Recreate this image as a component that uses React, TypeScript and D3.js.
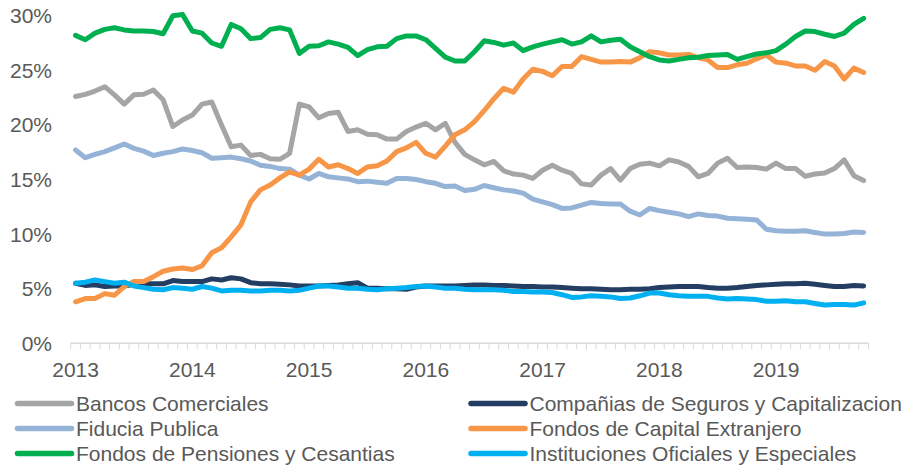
import { useEffect, useRef } from "react";
import * as d3 from "d3";

// monthly shares, Jan 2013 .. Oct 2019 (%)
const years = ["2013", "2014", "2015", "2016", "2017", "2018", "2019"];
const yTicks = [0, 5, 10, 15, 20, 25, 30];

const bancos = [
    22.6, 22.8, 23.1, 23.5, 22.75, 21.9, 22.75, 22.8, 23.2, 22.3,
    19.85, 20.45, 20.9, 21.9, 22.1, 20.0, 18.0, 18.15, 17.2, 17.3,
    16.9, 16.85, 17.4, 21.9, 21.65, 20.65, 21.05, 21.15, 19.4, 19.55,
    19.15, 19.1, 18.7, 18.7, 19.4, 19.8, 20.15, 19.55, 20.15, 18.4,
    17.3, 16.8, 16.35, 16.65, 15.8, 15.5, 15.4, 15.1, 15.85, 16.3,
    15.85, 15.55, 14.6, 14.5, 15.4, 16.0, 14.95, 16.0, 16.4, 16.5,
    16.25, 16.8, 16.6, 16.2, 15.25, 15.55, 16.5, 16.95, 16.1, 16.15,
    16.1, 15.95, 16.5, 16.0, 16.0, 15.3, 15.5, 15.6, 16.0, 16.8,
    15.35, 14.9,
];
const companias = [
    5.5, 5.3, 5.35, 5.2, 5.25, 5.25, 5.4, 5.45, 5.45, 5.45,
    5.75, 5.65, 5.65, 5.65, 5.9, 5.8, 6.0, 5.9, 5.55, 5.45,
    5.45, 5.4, 5.35, 5.25, 5.25, 5.25, 5.3, 5.35, 5.45, 5.55,
    5.05, 5.05, 5.0, 5.0, 4.95, 5.15, 5.25, 5.25, 5.25, 5.25,
    5.3, 5.35, 5.35, 5.3, 5.3, 5.25, 5.2, 5.2, 5.15, 5.15,
    5.1, 5.05, 5.0, 5.0, 4.95, 4.9, 4.9, 4.95, 4.95, 5.0,
    5.1, 5.15, 5.2, 5.2, 5.2, 5.1, 5.05, 5.05, 5.1, 5.2,
    5.3, 5.35, 5.4, 5.45, 5.45, 5.5, 5.4, 5.3, 5.2, 5.2,
    5.3, 5.25,
];
const fiducia = [
    17.7, 17.0, 17.3, 17.55, 17.9, 18.25, 17.85, 17.6, 17.2, 17.4,
    17.55, 17.8, 17.65, 17.45, 16.95, 17.0, 17.05, 16.9, 16.7, 16.3,
    16.2, 16.0, 15.95, 15.4, 15.05, 15.55, 15.25, 15.15, 15.05, 14.8,
    14.85, 14.75, 14.65, 15.1, 15.1, 15.0, 14.8, 14.65, 14.35, 14.4,
    14.0, 14.1, 14.45, 14.25, 14.05, 13.95, 13.75, 13.2, 12.95, 12.7,
    12.35, 12.4, 12.65, 12.9, 12.8, 12.75, 12.75, 12.1, 11.75, 12.35,
    12.15, 12.0, 11.85, 11.6, 11.85, 11.7, 11.65, 11.45, 11.4, 11.35,
    11.3, 10.45, 10.3, 10.25, 10.25, 10.3, 10.15, 10.0, 10.0, 10.05,
    10.2, 10.15,
];
const capitalExtranjero = [
    3.8, 4.1, 4.1, 4.55, 4.4, 5.2, 5.65, 5.65, 6.1, 6.6,
    6.8, 6.9, 6.75, 7.1, 8.3, 8.75, 9.75, 10.85, 12.95, 14.05,
    14.5, 15.15, 15.7, 15.4, 15.95, 16.85, 16.15, 16.35, 16.0, 15.55,
    16.15, 16.25, 16.7, 17.55, 17.9, 18.4, 17.4, 17.05, 18.05, 19.1,
    19.55, 20.3, 21.3, 22.4, 23.35, 23.0, 24.2, 25.1, 24.9, 24.5,
    25.35, 25.35, 26.25, 26.0, 25.75, 25.75, 25.8, 25.75, 26.15, 26.7,
    26.6, 26.4, 26.4, 26.45, 26.15, 25.95, 25.25, 25.25, 25.5, 25.65,
    26.05, 26.4, 25.75, 25.65, 25.4, 25.4, 25.0, 25.8, 25.4, 24.2,
    25.2, 24.8,
];
const pensiones = [
    28.2, 27.8, 28.4, 28.75, 28.9, 28.7, 28.6, 28.6, 28.55, 28.35,
    30.0, 30.1, 28.6, 28.4, 27.5, 27.2, 29.2, 28.8, 27.9, 28.0,
    28.75, 28.9, 28.7, 26.55, 27.2, 27.25, 27.6, 27.4, 27.1, 26.35,
    26.9, 27.15, 27.2, 27.9, 28.15, 28.15, 27.8, 27.0, 26.2, 25.85,
    25.85, 26.7, 27.7, 27.55, 27.3, 27.5, 26.8, 27.15, 27.4, 27.6,
    27.8, 27.4, 27.6, 28.15, 27.6, 27.75, 27.85, 27.15, 26.7, 26.25,
    25.95, 25.85, 26.0, 26.15, 26.2, 26.35, 26.4, 26.45, 26.0, 26.25,
    26.5, 26.6, 26.8, 27.4, 28.1, 28.6, 28.55, 28.3, 28.1, 28.4,
    29.2, 29.75,
];
const instituciones = [
    5.5, 5.6, 5.8, 5.65, 5.5, 5.6, 5.25, 5.1, 4.95, 4.9,
    5.1, 5.05, 4.95, 5.2, 5.05, 4.8, 4.85, 4.85, 4.8, 4.8,
    4.85, 4.85, 4.8, 4.85, 5.05, 5.25, 5.25, 5.15, 5.05, 5.05,
    4.95, 4.9, 5.0, 5.05, 5.1, 5.2, 5.25, 5.15, 5.05, 5.05,
    4.95, 4.9, 4.9, 4.9, 4.85, 4.75, 4.75, 4.7, 4.7, 4.65,
    4.45, 4.2, 4.25, 4.35, 4.3, 4.25, 4.1, 4.15, 4.35, 4.6,
    4.6, 4.45, 4.35, 4.3, 4.3, 4.3, 4.15, 4.05, 4.1, 4.05,
    4.0, 3.85, 3.85, 3.9, 3.8, 3.8, 3.65, 3.5, 3.55, 3.55,
    3.5, 3.7,
];

const seriesNames = [
    "Bancos Comerciales",
    "Compañias de Seguros y Capitalizacion",
    "Fiducia Publica",
    "Fondos de Capital Extranjero",
    "Fondos de Pensiones y Cesantias",
    "Instituciones Oficiales y Especiales",
];
const seriesValues = [bancos, companias, fiducia, capitalExtranjero, pensiones, instituciones];
const seriesColors = ["#A5A5A5", "#233D63", "#95B3D7", "#F79646", "#00B050", "#00B0F0"];

const App = () => {
    const svgRef = useRef<SVGSVGElement | null>(null);

    useEffect(() => {
        const svg = d3.select(svgRef.current);
        svg.selectAll("*").remove();

        const left = 70.7;
        const right = 868.5;
        const top = 15.7;
        const bottom = 343.3;
        const textColor = "#595959";
        const font = "'Liberation Sans', Arial, sans-serif";

        const n = bancos.length;
        const idx = d3.range(n);

        const x = d3.scalePoint<number>().domain(idx).range([left, right]).padding(0.5);
        const step = x.step();
        const y = d3.scaleLinear().domain([0, 30]).range([bottom, top]);

        // y labels
        svg.append("g")
            .selectAll("text")
            .data(yTicks)
            .enter()
            .append("text")
            .attr("x", 52)
            .attr("y", (d) => y(d) + 7.5)
            .attr("text-anchor", "end")
            .style("font-family", font)
            .style("font-size", "21px")
            .style("fill", textColor)
            .text((d) => `${d}%`);

        // x axis line + monthly ticks
        const axis = svg.append("g");
        axis.append("line")
            .attr("x1", left)
            .attr("x2", right)
            .attr("y1", bottom)
            .attr("y2", bottom)
            .attr("stroke", "#D9D9D9")
            .attr("stroke-width", 1.5);
        axis.selectAll(".tick")
            .data(d3.range(n + 1))
            .enter()
            .append("line")
            .attr("class", "tick")
            .attr("x1", (d) => left + d * step)
            .attr("x2", (d) => left + d * step)
            .attr("y1", bottom)
            .attr("y2", bottom + 6)
            .attr("stroke", "#D9D9D9")
            .attr("stroke-width", 1);

        axis.selectAll(".year")
            .data(years)
            .enter()
            .append("text")
            .attr("class", "year")
            .attr("x", (d, i) => x(i * 12) as number)
            .attr("y", 376.5)
            .attr("text-anchor", "middle")
            .style("font-family", font)
            .style("font-size", "21px")
            .style("fill", textColor)
            .text((d) => d);

        // lines
        const line = d3
            .line<number>()
            .x((d, i) => x(i) as number)
            .y((d) => y(d));

        seriesValues.forEach((vals, k) => {
            svg.append("path")
                .datum(vals)
                .attr("d", line)
                .attr("fill", "none")
                .attr("stroke", seriesColors[k])
                .attr("stroke-width", 5)
                .attr("stroke-linejoin", "round")
                .attr("stroke-linecap", "round");
        });

        // legend, two columns filled row by row
        const legend = svg.append("g");
        seriesNames.forEach((name, k) => {
            const col = k % 2;
            const row = Math.floor(k / 2);
            const lx = col === 0 ? 17.5 : 471;
            const ly = 403.5 + row * 25;
            legend.append("line")
                .attr("x1", lx)
                .attr("x2", lx + 54)
                .attr("y1", ly)
                .attr("y2", ly)
                .attr("stroke", seriesColors[k])
                .attr("stroke-width", 5.5)
                .attr("stroke-linecap", "round");
            legend.append("text")
                .attr("x", lx + 58.5)
                .attr("y", ly + 7.5)
                .style("font-family", font)
                .style("font-size", "21px")
                .style("fill", textColor)
                .text(name);
        });
    }, []);

    return (
        <svg
            ref={svgRef}
            width={907}
            height={466}
            style={{ position: "absolute", left: 0, top: 0, background: "#fff" }}
        />
    );
};

export default App;
